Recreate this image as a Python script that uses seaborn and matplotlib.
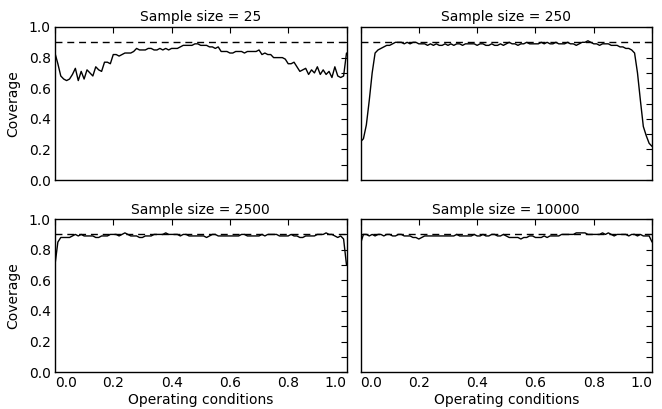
import numpy as np
import pandas as pd
import matplotlib
matplotlib.use("Agg")
import matplotlib.pyplot as plt
import seaborn as sns

# operating conditions grid (0.00 .. 1.00)
conditions = np.round(np.arange(101) * 0.01, 2)

sample_sizes = [25, 250, 2500, 10000]

cov_25 = [0.83, 0.76, 0.68, 0.66, 0.65, 0.66, 0.69, 0.73, 0.65, 0.71,
          0.66, 0.72, 0.70, 0.68, 0.74, 0.72, 0.71, 0.77, 0.77, 0.76,
          0.82, 0.82, 0.81, 0.82, 0.83, 0.83, 0.83, 0.84, 0.86, 0.85,
          0.85, 0.85, 0.86, 0.86, 0.85, 0.85, 0.86, 0.85, 0.86, 0.85,
          0.86, 0.86, 0.86, 0.87, 0.88, 0.88, 0.88, 0.88, 0.89, 0.89,
          0.88, 0.88, 0.88, 0.87, 0.87, 0.86, 0.87, 0.84, 0.84, 0.84,
          0.83, 0.83, 0.84, 0.84, 0.84, 0.83, 0.84, 0.84, 0.84, 0.84,
          0.85, 0.82, 0.83, 0.82, 0.82, 0.80, 0.80, 0.80, 0.80, 0.79,
          0.76, 0.76, 0.77, 0.74, 0.71, 0.72, 0.73, 0.69, 0.72, 0.70,
          0.74, 0.69, 0.72, 0.69, 0.71, 0.67, 0.74, 0.68, 0.67, 0.68,
          0.83]

cov_250 = [0.25, 0.27, 0.36, 0.52, 0.70, 0.83, 0.85, 0.86, 0.87, 0.88,
           0.88, 0.89, 0.90, 0.90, 0.90, 0.89, 0.90, 0.89, 0.90, 0.90,
           0.89, 0.89, 0.89, 0.88, 0.89, 0.88, 0.89, 0.88, 0.88, 0.89,
           0.88, 0.89, 0.88, 0.89, 0.89, 0.88, 0.89, 0.89, 0.89, 0.89,
           0.88, 0.89, 0.89, 0.88, 0.88, 0.89, 0.88, 0.88, 0.89, 0.88,
           0.89, 0.90, 0.89, 0.89, 0.88, 0.89, 0.89, 0.90, 0.89, 0.89,
           0.89, 0.89, 0.90, 0.89, 0.90, 0.89, 0.89, 0.90, 0.89, 0.89,
           0.89, 0.90, 0.89, 0.89, 0.88, 0.89, 0.90, 0.90, 0.91, 0.90,
           0.89, 0.89, 0.88, 0.89, 0.89, 0.89, 0.88, 0.88, 0.88, 0.87,
           0.87, 0.86, 0.86, 0.85, 0.83, 0.70, 0.52, 0.35, 0.29, 0.24,
           0.22]

cov_2500 = [0.70, 0.85, 0.88, 0.88, 0.88, 0.88, 0.89, 0.90, 0.89, 0.90,
            0.89, 0.89, 0.89, 0.89, 0.88, 0.88, 0.89, 0.89, 0.89, 0.90,
            0.90, 0.90, 0.89, 0.90, 0.91, 0.90, 0.89, 0.89, 0.89, 0.88,
            0.88, 0.89, 0.89, 0.89, 0.90, 0.90, 0.90, 0.90, 0.91, 0.90,
            0.90, 0.90, 0.90, 0.89, 0.90, 0.90, 0.89, 0.89, 0.89, 0.89,
            0.89, 0.89, 0.88, 0.89, 0.90, 0.90, 0.89, 0.89, 0.89, 0.89,
            0.89, 0.89, 0.89, 0.89, 0.90, 0.90, 0.89, 0.89, 0.89, 0.89,
            0.89, 0.90, 0.89, 0.90, 0.90, 0.90, 0.90, 0.89, 0.89, 0.89,
            0.89, 0.90, 0.89, 0.89, 0.88, 0.88, 0.89, 0.89, 0.89, 0.89,
            0.90, 0.90, 0.90, 0.91, 0.90, 0.90, 0.89, 0.88, 0.89, 0.87,
            0.70]

cov_10000 = [0.84, 0.90, 0.90, 0.89, 0.90, 0.89, 0.90, 0.90, 0.89, 0.90,
             0.90, 0.89, 0.89, 0.90, 0.90, 0.89, 0.89, 0.89, 0.88, 0.88,
             0.87, 0.88, 0.89, 0.89, 0.89, 0.89, 0.89, 0.89, 0.89, 0.89,
             0.89, 0.89, 0.89, 0.90, 0.89, 0.89, 0.89, 0.89, 0.89, 0.90,
             0.89, 0.89, 0.90, 0.89, 0.89, 0.90, 0.90, 0.89, 0.89, 0.90,
             0.89, 0.88, 0.88, 0.88, 0.88, 0.87, 0.88, 0.88, 0.89, 0.89,
             0.88, 0.88, 0.88, 0.89, 0.88, 0.89, 0.89, 0.89, 0.89, 0.90,
             0.90, 0.90, 0.90, 0.90, 0.91, 0.91, 0.91, 0.91, 0.90, 0.90,
             0.90, 0.90, 0.90, 0.91, 0.90, 0.91, 0.90, 0.89, 0.90, 0.90,
             0.90, 0.90, 0.89, 0.90, 0.90, 0.89, 0.90, 0.89, 0.89, 0.89,
             0.85]

target = 0.9

coverage = [cov_25, cov_250, cov_2500, cov_10000]
df = pd.concat([
    pd.DataFrame({'cond': conditions, 'coverage': cov, 'n': n})
    for n, cov in zip(sample_sizes, coverage)
])

sns.set_theme(style="white")
plt.rcParams['font.family'] = ['DejaVu Sans']
plt.rcParams['axes.edgecolor'] = 'black'
plt.rcParams['axes.linewidth'] = 1.0
plt.rcParams['text.color'] = 'black'
plt.rcParams['axes.labelcolor'] = 'black'
plt.rcParams['axes.titlecolor'] = 'black'
plt.rcParams['xtick.color'] = 'black'
plt.rcParams['ytick.color'] = 'black'

fig, axes = plt.subplots(2, 2, figsize=(6.62, 4.09), dpi=100, sharex=True, sharey=True)
fig.subplots_adjust(left=0.083, right=0.985, top=0.934, bottom=0.09, wspace=0.048, hspace=0.255)

for ax, n in zip(axes.flat, sample_sizes):
    sub = df[df['n'] == n]
    sns.lineplot(data=sub, x='cond', y='coverage', ax=ax, color='black', linewidth=1.0)
    ax.axhline(target, color='black', linestyle=(0, (5, 3.5)), linewidth=1.0)
    ax.set_title(f'Sample size = {n}', fontsize=10, pad=4, color='black')
    ax.set_xlim(0, 1)
    ax.set_ylim(0, 1)
    ax.set_xticks([0.0, 0.2, 0.4, 0.6, 0.8, 1.0])
    ax.set_yticks(np.round(np.arange(11) * 0.1, 1))
    ax.tick_params(direction='in', length=4, width=0.8, top=True, right=True,
                   labelsize=10, colors='black', pad=3)
    ax.set_xlabel('')
    ax.set_ylabel('')
    for s in ax.spines.values():
        s.set_color('black')

ylabels = ['0.0', '', '0.2', '', '0.4', '', '0.6', '', '0.8', '', '1.0']
for ax in axes[:, 0]:
    ax.set_yticklabels(ylabels)
    ax.set_ylabel('Coverage', fontsize=10, labelpad=6, color='black')

for ax in axes[1, :]:
    ax.set_xticklabels(['0.0', '0.2', '0.4', '0.6', '0.8', '1.0'])
    labs = ax.get_xticklabels()
    labs[0].set_ha('left')
    labs[-1].set_ha('right')
    ax.set_xlabel('Operating conditions', fontsize=10, labelpad=2, color='black')

plt.savefig('out.png', dpi=100)
